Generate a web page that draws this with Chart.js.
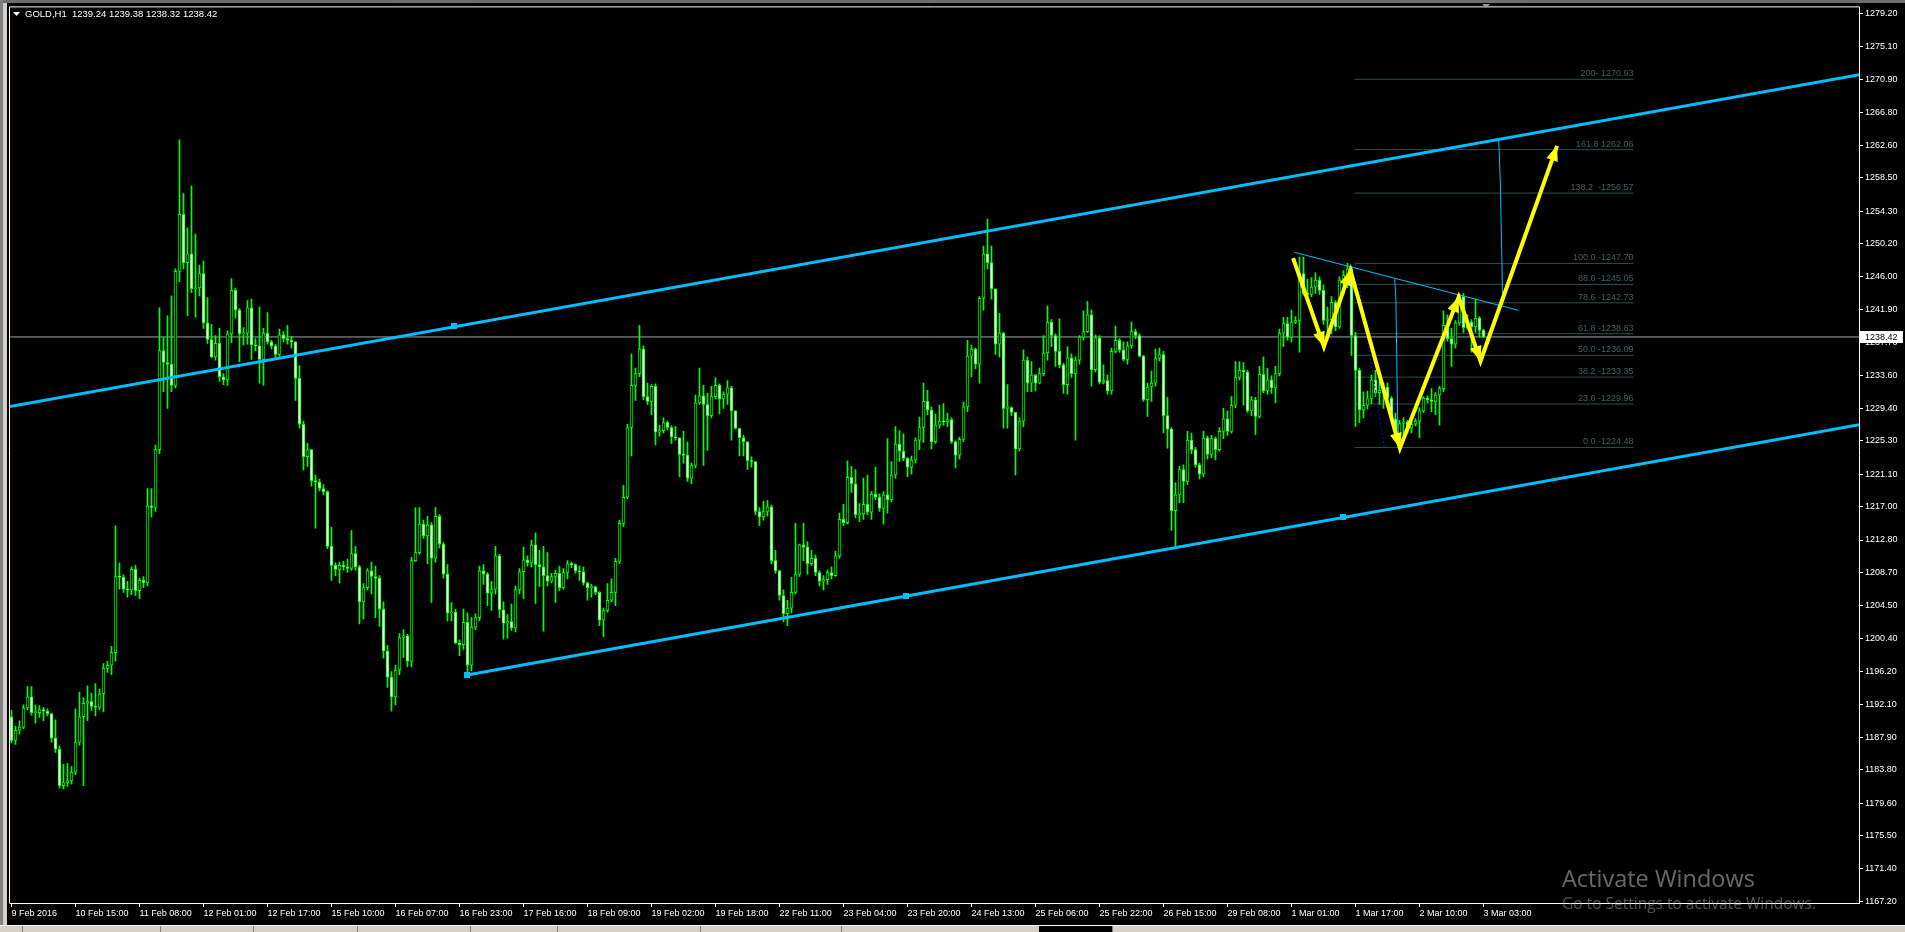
<!DOCTYPE html>
<html>
<head>
<meta charset="utf-8">
<title>GOLD,H1</title>
<script src="https://cdn.jsdelivr.net/npm/chart.js@4.4.1/dist/chart.umd.min.js"></script>
<style>
  html, body { margin: 0; padding: 0; background: #000; overflow: hidden; }
  canvas { display: block; }
</style>
</head>
<body>
<canvas id="chart" width="1905" height="932"></canvas>
<script>
// H1 bars, 9 Feb 2016 .. 3 Mar 03:00 (bar index = hours on the chart)
const firstOpen = 1190.5;
const closes = [
  1187.5, 1188.8, 1189.2, 1191.6, 1193.0, 1191.0, 1191.0, 1191.4, 1191.2, 1190.9,
  1187.8, 1186.4, 1181.8, 1182.2, 1182.4, 1183.5, 1187.3, 1190.5, 1192.2, 1192.4,
  1191.8, 1191.7, 1193.4, 1196.6, 1197.0, 1198.6, 1208.2, 1208.1, 1206.6, 1206.5,
  1209.1, 1206.4, 1207.7, 1207.4, 1217.1, 1216.9, 1224.2, 1236.7, 1235.2, 1235.0,
  1232.3, 1246.7, 1253.9, 1247.8, 1248.9, 1244.5, 1244.6, 1246.4, 1240.2, 1238.1,
  1235.9, 1237.6, 1233.4, 1233.0, 1238.8, 1244.3, 1241.8, 1238.8, 1238.9, 1242.1,
  1237.4, 1237.3, 1235.6, 1238.9, 1237.8, 1237.3, 1236.2, 1238.7, 1238.2, 1238.0,
  1237.8, 1233.2, 1227.4, 1223.3, 1224.2, 1220.3, 1220.1, 1219.3, 1218.9, 1212.0,
  1209.6, 1209.1, 1209.6, 1209.4, 1209.2, 1211.1, 1209.4, 1205.0, 1206.8, 1208.9,
  1208.2, 1208.0, 1204.1, 1198.8, 1195.5, 1193.0, 1196.4, 1200.5, 1200.7, 1197.5,
  1210.2, 1211.2, 1214.8, 1213.3, 1214.7, 1210.5, 1215.8, 1212.3, 1208.5, 1203.6,
  1203.7, 1199.8, 1199.6, 1202.4, 1197.0, 1201.8, 1203.0, 1208.9, 1208.5, 1206.1,
  1206.6, 1210.8, 1204.0, 1202.3, 1202.5, 1201.7, 1206.5, 1208.8, 1210.3, 1209.9,
  1212.2, 1209.7, 1209.4, 1208.3, 1207.6, 1208.2, 1208.6, 1206.8, 1208.7, 1209.8,
  1209.7, 1208.9, 1208.8, 1207.4, 1206.8, 1206.9, 1206.2, 1202.7, 1203.9, 1205.2,
  1206.2, 1210.1, 1214.9, 1218.2, 1227.0, 1232.3, 1233.8, 1236.9, 1230.9, 1230.3,
  1232.2, 1226.4, 1226.6, 1227.6, 1227.0, 1225.8, 1225.7, 1223.6, 1223.5, 1220.6,
  1222.2, 1230.1, 1231.0, 1229.9, 1228.5, 1230.9, 1232.3, 1230.6, 1231.2, 1232.0,
  1229.1, 1226.9, 1225.7, 1225.2, 1222.8, 1222.7, 1216.4, 1215.7, 1216.4, 1217.0,
  1210.2, 1208.9, 1205.8, 1203.5, 1204.2, 1206.2, 1208.5, 1212.2, 1211.9, 1209.8,
  1210.5, 1208.7, 1207.6, 1207.8, 1208.7, 1208.3, 1210.8, 1215.4, 1215.0, 1220.7,
  1219.9, 1216.0, 1216.1, 1217.3, 1216.3, 1218.6, 1218.2, 1216.8, 1218.5, 1217.9,
  1221.0, 1224.9, 1224.0, 1223.1, 1222.0, 1222.9, 1225.4, 1227.0, 1230.3, 1229.2,
  1225.2, 1227.3, 1227.8, 1227.7, 1228.0, 1225.2, 1223.5, 1225.5, 1229.6, 1236.0,
  1236.9, 1235.0, 1243.3, 1248.9, 1247.8, 1244.5, 1237.5, 1238.9, 1229.4, 1229.5,
  1228.9, 1224.3, 1227.8, 1235.5, 1232.6, 1233.6, 1232.6, 1233.8, 1236.4, 1240.3,
  1238.6, 1236.6, 1234.9, 1232.4, 1235.8, 1233.8, 1235.5, 1238.4, 1239.1, 1241.2,
  1234.3, 1238.3, 1232.7, 1232.9, 1231.6, 1236.6, 1238.0, 1236.8, 1235.6, 1237.3,
  1239.1, 1238.6, 1236.0, 1230.5, 1232.1, 1232.6, 1235.7, 1236.2, 1228.5, 1226.8,
  1216.5, 1218.5, 1221.7, 1220.2, 1225.4, 1224.2, 1222.3, 1221.1, 1225.7, 1223.6,
  1225.6, 1224.2, 1226.5, 1228.1, 1226.5, 1229.8, 1233.3, 1234.2, 1234.0, 1229.1,
  1230.5, 1228.4, 1233.7, 1231.6, 1233.0, 1232.0, 1233.8, 1238.9, 1240.1, 1238.4,
  1240.3, 1240.5, 1246.4, 1243.9, 1243.8, 1244.7, 1245.6, 1244.3, 1240.5, 1240.6,
  1242.8, 1239.7, 1245.6, 1246.2, 1247.0, 1238.6, 1234.2, 1229.2, 1229.8, 1230.6,
  1233.0, 1231.4, 1231.7, 1232.1, 1230.7, 1228.1, 1226.1, 1227.5, 1227.7, 1226.9,
  1227.4, 1227.8, 1229.1, 1230.7, 1230.5, 1230.3, 1231.1, 1231.9, 1239.9, 1238.2,
  1237.5, 1240.2, 1243.5, 1239.6, 1240.3, 1239.7, 1240.8, 1239.24, 1238.42
];
const highs = [
  1191.3, 1189.3, 1190.0, 1192.0, 1194.3, 1194.3, 1192.0, 1191.9, 1191.7, 1191.5,
  1190.9, 1190.1, 1186.8, 1184.5, 1184.6, 1184.2, 1191.5, 1193.6, 1192.9, 1194.4,
  1193.5, 1194.7, 1194.0, 1197.2, 1197.5, 1199.4, 1214.6, 1209.9, 1208.4, 1207.6,
  1209.4, 1209.6, 1208.0, 1208.2, 1219.3, 1219.3, 1224.8, 1242.1, 1238.4, 1241.1,
  1243.6, 1247.0, 1263.3, 1256.5, 1252.2, 1257.5, 1251.4, 1247.5, 1248.0, 1243.4,
  1240.0, 1238.6, 1239.5, 1233.8, 1239.2, 1245.8, 1244.6, 1242.0, 1239.6, 1243.0,
  1243.2, 1238.2, 1242.2, 1239.5, 1241.5, 1238.0, 1237.5, 1239.4, 1239.1, 1239.9,
  1238.5, 1235.4, 1234.8, 1227.8, 1225.0, 1222.5, 1221.0, 1220.5, 1219.8, 1219.0,
  1214.4, 1209.9, 1210.0, 1210.1, 1210.4, 1214.0, 1212.0, 1209.6, 1207.3, 1209.2,
  1210.0, 1209.5, 1208.3, 1205.0, 1199.5, 1196.2, 1197.0, 1201.0, 1201.5, 1200.9,
  1210.6, 1216.9, 1216.9, 1215.3, 1215.8, 1215.0, 1216.9, 1216.0, 1212.5, 1209.7,
  1204.9, 1204.1, 1200.2, 1204.1, 1203.6, 1203.0, 1203.5, 1209.5, 1209.7, 1208.7,
  1207.6, 1212.0, 1211.0, 1205.0, 1203.4, 1204.7, 1207.0, 1209.2, 1211.9, 1210.8,
  1212.8, 1213.7, 1211.5, 1212.0, 1211.2, 1208.6, 1209.0, 1209.5, 1209.2, 1210.2,
  1210.0, 1209.8, 1209.5, 1209.4, 1207.5, 1207.2, 1207.0, 1206.3, 1204.2, 1207.3,
  1207.9, 1210.5, 1215.3, 1219.7, 1227.4, 1236.3, 1234.5, 1239.9, 1237.3, 1232.6,
  1232.4, 1232.5, 1227.3, 1228.2, 1227.8, 1227.2, 1227.1, 1225.6, 1226.5, 1225.2,
  1222.5, 1231.1, 1234.5, 1232.3, 1231.3, 1232.2, 1233.3, 1232.5, 1231.5, 1232.9,
  1232.2, 1229.1, 1226.2, 1226.0, 1225.2, 1223.3, 1222.6, 1216.9, 1217.7, 1217.8,
  1217.2, 1211.5, 1209.0, 1206.5, 1205.2, 1208.1, 1214.9, 1212.3, 1214.9, 1212.6,
  1211.5, 1210.9, 1208.9, 1208.3, 1209.0, 1209.4, 1211.4, 1216.2, 1217.3, 1222.8,
  1222.1, 1221.7, 1217.4, 1220.6, 1221.0, 1218.9, 1222.0, 1218.6, 1218.9, 1225.6,
  1222.7, 1227.1, 1226.6, 1226.2, 1223.2, 1223.4, 1225.7, 1228.3, 1232.6, 1231.7,
  1229.6, 1228.7, 1229.8, 1230.0, 1228.8, 1228.2, 1225.3, 1225.8, 1230.2, 1238.0,
  1237.4, 1237.0, 1243.5, 1249.9, 1253.3, 1249.9, 1244.5, 1241.4, 1239.0, 1232.4,
  1229.6, 1228.9, 1228.2, 1236.8, 1235.9, 1235.3, 1233.7, 1234.5, 1238.6, 1242.3,
  1240.6, 1238.8, 1240.7, 1235.1, 1237.2, 1236.3, 1235.9, 1238.6, 1241.7, 1242.9,
  1241.8, 1238.7, 1238.6, 1234.9, 1233.6, 1237.0, 1239.8, 1238.2, 1237.8, 1237.8,
  1240.3, 1239.4, 1238.8, 1236.1, 1232.6, 1234.1, 1236.9, 1237.0, 1236.6, 1230.8,
  1227.0, 1220.0, 1222.1, 1222.3, 1226.5, 1226.3, 1224.5, 1222.5, 1226.5, 1225.9,
  1226.0, 1225.8, 1227.0, 1229.4, 1229.1, 1230.9, 1235.3, 1235.3, 1235.2, 1234.2,
  1230.9, 1230.8, 1234.7, 1235.9, 1234.5, 1233.5, 1234.7, 1239.4, 1240.9, 1240.9,
  1241.8, 1241.0, 1248.5, 1248.5, 1245.7, 1245.9, 1246.5, 1246.0, 1245.0, 1242.2,
  1243.5, 1243.0, 1246.0, 1246.8, 1247.7, 1247.3, 1239.0, 1234.5, 1231.5, 1231.6,
  1233.6, 1234.2, 1232.9, 1232.6, 1232.6, 1230.9, 1228.8, 1227.9, 1228.2, 1227.9,
  1227.7, 1228.1, 1229.5, 1230.9, 1231.0, 1231.9, 1231.4, 1232.2, 1241.7, 1241.2,
  1239.5, 1240.5, 1243.8, 1243.9, 1241.2, 1240.6, 1243.2, 1241.0, 1239.38
];
const lows = [
  1187.2, 1187.0, 1188.3, 1189.0, 1191.4, 1190.7, 1189.7, 1190.4, 1190.0, 1190.6,
  1187.3, 1186.0, 1181.5, 1181.4, 1181.7, 1182.0, 1183.2, 1186.9, 1181.8, 1190.0,
  1191.3, 1190.6, 1191.4, 1191.1, 1196.1, 1195.8, 1197.5, 1206.6, 1206.2, 1205.6,
  1205.9, 1205.8, 1205.4, 1206.8, 1207.0, 1215.7, 1216.4, 1223.7, 1231.5, 1229.4,
  1231.5, 1232.0, 1245.4, 1247.0, 1241.1, 1244.0, 1240.9, 1243.6, 1239.5, 1237.6,
  1235.8, 1235.5, 1232.8, 1232.4, 1232.3, 1237.7, 1240.8, 1235.3, 1237.4, 1237.5,
  1235.6, 1236.7, 1232.6, 1232.3, 1237.5, 1236.9, 1235.8, 1236.0, 1237.8, 1237.5,
  1237.0, 1230.4, 1226.9, 1221.6, 1222.1, 1219.6, 1214.3, 1219.0, 1218.5, 1211.7,
  1207.7, 1208.3, 1207.4, 1209.0, 1208.7, 1209.0, 1209.0, 1202.2, 1202.8, 1206.5,
  1206.0, 1203.0, 1201.9, 1197.9, 1194.2, 1191.2, 1192.0, 1195.8, 1198.0, 1196.8,
  1196.8, 1210.1, 1211.0, 1213.0, 1209.8, 1204.9, 1210.0, 1211.8, 1208.0, 1202.6,
  1202.6, 1199.7, 1198.2, 1199.0, 1196.0, 1196.3, 1201.5, 1202.6, 1207.2, 1204.5,
  1203.9, 1206.0, 1203.0, 1200.3, 1200.4, 1201.4, 1201.2, 1206.0, 1205.4, 1209.5,
  1209.4, 1204.8, 1206.9, 1201.3, 1207.0, 1207.4, 1204.9, 1206.4, 1206.6, 1207.9,
  1209.3, 1208.6, 1207.7, 1207.1, 1205.2, 1205.6, 1205.9, 1202.0, 1200.6, 1203.7,
  1205.0, 1204.5, 1209.8, 1214.5, 1218.0, 1223.4, 1230.4, 1233.4, 1230.5, 1229.9,
  1228.6, 1224.8, 1225.9, 1226.3, 1226.7, 1225.0, 1225.4, 1220.8, 1222.5, 1220.2,
  1219.9, 1221.9, 1229.9, 1222.2, 1224.1, 1228.2, 1230.6, 1228.7, 1229.4, 1229.9,
  1225.4, 1226.8, 1223.4, 1223.4, 1221.7, 1222.0, 1216.0, 1214.6, 1215.3, 1215.8,
  1209.8, 1208.6, 1205.2, 1202.5, 1202.0, 1203.6, 1206.0, 1208.2, 1210.2, 1208.5,
  1209.6, 1208.3, 1207.0, 1206.5, 1207.2, 1207.9, 1208.2, 1210.5, 1214.6, 1214.8,
  1218.8, 1215.6, 1215.1, 1215.4, 1216.0, 1215.4, 1217.9, 1216.4, 1214.8, 1216.2,
  1217.6, 1220.6, 1222.7, 1222.8, 1220.8, 1221.1, 1222.5, 1224.2, 1225.1, 1228.6,
  1224.3, 1225.0, 1226.9, 1227.3, 1227.1, 1225.0, 1221.9, 1223.0, 1225.2, 1229.0,
  1233.4, 1234.4, 1232.6, 1241.8, 1247.0, 1243.2, 1236.2, 1235.9, 1226.9, 1226.9,
  1228.5, 1221.0, 1224.0, 1227.1, 1231.5, 1231.5, 1231.6, 1232.5, 1233.5, 1235.5,
  1237.2, 1234.7, 1234.5, 1231.3, 1231.2, 1233.3, 1225.4, 1235.0, 1238.0, 1239.0,
  1232.2, 1234.0, 1232.5, 1232.5, 1231.2, 1231.2, 1236.4, 1236.5, 1235.4, 1235.0,
  1237.0, 1238.2, 1235.9, 1230.3, 1228.4, 1230.3, 1232.2, 1235.4, 1226.3, 1224.4,
  1214.0, 1212.0, 1217.5, 1217.5, 1219.8, 1223.7, 1222.0, 1220.5, 1220.8, 1223.0,
  1223.2, 1222.9, 1224.0, 1225.6, 1226.0, 1226.3, 1229.5, 1233.0, 1229.8, 1228.9,
  1228.5, 1226.1, 1228.2, 1231.4, 1231.2, 1231.3, 1230.1, 1233.5, 1237.2, 1238.0,
  1237.8, 1240.1, 1236.5, 1243.7, 1242.8, 1243.5, 1243.9, 1243.8, 1240.0, 1238.2,
  1238.8, 1239.2, 1239.5, 1243.8, 1244.6, 1236.1, 1227.1, 1227.6, 1228.2, 1229.3,
  1230.0, 1230.9, 1229.9, 1229.4, 1230.2, 1227.7, 1225.6, 1224.5, 1226.0, 1226.3,
  1226.3, 1227.2, 1225.7, 1228.9, 1230.1, 1229.0, 1228.6, 1227.3, 1231.5, 1237.9,
  1234.7, 1237.0, 1239.9, 1239.0, 1239.4, 1236.5, 1239.0, 1238.4, 1238.32
];

// time axis labels, one every 16 bars
const timeLabels = [
  "9 Feb 2016", "10 Feb 15:00", "11 Feb 08:00", "12 Feb 01:00", "12 Feb 17:00",
  "15 Feb 10:00", "16 Feb 07:00", "16 Feb 23:00", "17 Feb 16:00", "18 Feb 09:00",
  "19 Feb 02:00", "19 Feb 18:00", "22 Feb 11:00", "23 Feb 04:00", "23 Feb 20:00",
  "24 Feb 13:00", "25 Feb 06:00", "25 Feb 22:00", "26 Feb 15:00", "29 Feb 08:00",
  "1 Mar 01:00", "1 Mar 17:00", "2 Mar 10:00", "3 Mar 03:00"
];
const priceTicks = [
  1279.20, 1275.10, 1270.90, 1266.80, 1262.60, 1258.50, 1254.30, 1250.20, 1246.00,
  1241.90, 1237.70, 1233.60, 1229.40, 1225.30, 1221.10, 1217.00, 1212.80, 1208.70,
  1204.50, 1200.40, 1196.20, 1192.10, 1187.90, 1183.80, 1179.60, 1175.50, 1171.40, 1167.20
];

// drawn objects, as [bar, price]
const upperChannel = [[-1, 1229.6], [463, 1271.6]];
const lowerChannel = [[113.9, 1195.78], [463, 1227.44]];
const channelAnchors = [[110.5, 1239.75], [113.9, 1195.78], [223.5, 1205.72], [332.9, 1215.64]];
const fallingTrend = [[320.75, 1249.1], [376.7, 1241.79]];
const dropLineA = [[345.8, 1245.8], [346.1, 1243.2], [346.6, 1226.1]];
const dropLineB = [[371.8, 1263.36], [372.2, 1258.0], [372.6, 1248.0], [372.8, 1242.4]];
const fibDiagonal = [[336.0, 1247.70], [343.2, 1224.48]];
const arrowPath = [
  [320.4, 1248.36], [328.1, 1237.18], [334.75, 1246.82], [347.1, 1224.39],
  [361.8, 1243.46], [367.25, 1235.38], [386.4, 1262.53]
];
const fibLevels = [200, 161.8, 138.2, 100, 88.6, 78.6, 61.8, 50, 38.2, 23.6, 0];
const fibPrices = [1270.93, 1262.06, 1256.57, 1247.70, 1245.05, 1242.73, 1238.83, 1236.09, 1233.35, 1229.96, 1224.48];
const fibLabels = [
  "200- 1270.93", "161.8 1262.06", "138.2  -1256.57", "100.0 -1247.70", "88.6 -1245.05",
  "78.6 -1242.73", "61.8 -1238.83", "50.0 -1236.09", "38.2 -1233.35", "23.6 -1229.96", "0.0 -1224.48"
];
const fibStart = 335.75, fibEnd = 405.5;
const bid = 1238.42;
const header = "GOLD,H1  1239.24 1239.38 1238.32 1238.42";

const LIME = "#00ff00";
const SKY = "#00bfff";
const FONT = '"Liberation Sans", Arial, sans-serif';

const opens = closes.map((c, i) => (i === 0 ? firstOpen : closes[i - 1]));
const wickData = closes.map((c, i) => ({
  x: i,
  y: [Math.min(lows[i], opens[i], c), Math.max(highs[i], opens[i], c)]
}));
const bodyData = closes.map((c, i) => ({ x: i, y: [opens[i], c] }));
const bodyFill = closes.map((c, i) => (c < opens[i] ? "#ffffff" : "#000000"));

const pts = (arr) => arr.map(([x, y]) => ({ x, y }));
const lineSet = (data, color, width, order, extra) =>
  Object.assign({
    type: "line", data: pts(data), borderColor: color, borderWidth: width,
    pointRadius: 0, fill: false, tension: 0, order, clip: 0
  }, extra || {});

const datasets = [
  lineSet([[-1, bid], [463, bid]], "#9ea6ae", 1, 100),
  ...fibPrices.map((p) => lineSet([[fibStart, p], [fibEnd, p]], "#2f4f4f", 1, 90)),
  {
    type: "bar", data: wickData, backgroundColor: LIME, borderWidth: 0,
    barThickness: 1, grouped: false, order: 50
  },
  {
    type: "bar", data: bodyData, backgroundColor: bodyFill, borderColor: LIME,
    borderWidth: 1, borderSkipped: false, barThickness: 3, minBarLength: 1,
    grouped: false, order: 40
  },
  lineSet(upperChannel, SKY, 3, 20),
  lineSet(lowerChannel, SKY, 3, 20),
  lineSet(fallingTrend, SKY, 1, 15),
  lineSet(dropLineA, SKY, 1, 15),
  lineSet(dropLineB, SKY, 1, 15),
  lineSet(fibDiagonal, "#1010e0", 1, 15, { borderDash: [2, 2] }),
  lineSet(arrowPath, "#ffff00", 4, 1, { borderJoinStyle: "miter" })
];

const overlay = {
  id: "overlay",
  beforeDraw(chart) {
    const { ctx, width, height } = chart;
    ctx.save();
    ctx.fillStyle = "#000";
    ctx.fillRect(0, 0, width, height);
    ctx.restore();
  },
  afterDatasetsDraw(chart) {
    const { ctx, chartArea: a } = chart;
    const x = chart.scales.x, y = chart.scales.y;
    ctx.save();
    ctx.beginPath();
    ctx.rect(a.left, a.top, a.right - a.left, a.bottom - a.top);
    ctx.clip();

    // fibo level captions
    ctx.font = "9px " + FONT;
    ctx.fillStyle = "#3f6060";
    ctx.textAlign = "right";
    ctx.textBaseline = "bottom";
    fibPrices.forEach((p, i) => {
      ctx.fillText(fibLabels[i], x.getPixelForValue(fibEnd), y.getPixelForValue(p) - 1);
    });

    // channel anchor squares
    ctx.fillStyle = SKY;
    channelAnchors.forEach(([b, p]) => {
      const px = Math.round(x.getPixelForValue(b)), py = Math.round(y.getPixelForValue(p));
      ctx.fillRect(px - 3, py - 3, 6, 6);
    });

    // arrow heads on every leg
    ctx.fillStyle = "#ffff00";
    for (let i = 1; i < arrowPath.length; i++) {
      const x0 = x.getPixelForValue(arrowPath[i - 1][0]), y0 = y.getPixelForValue(arrowPath[i - 1][1]);
      const x1 = x.getPixelForValue(arrowPath[i][0]), y1 = y.getPixelForValue(arrowPath[i][1]);
      const ang = Math.atan2(y1 - y0, x1 - x0);
      const len = 15, half = 6;
      const bx = x1 - Math.cos(ang) * len, by = y1 - Math.sin(ang) * len;
      ctx.beginPath();
      ctx.moveTo(x1, y1);
      ctx.lineTo(bx + Math.sin(ang) * half, by - Math.cos(ang) * half);
      ctx.lineTo(bx - Math.sin(ang) * half, by + Math.cos(ang) * half);
      ctx.closePath();
      ctx.fill();
    }
    ctx.restore();
  },
  afterDraw(chart) {
    const { ctx, chartArea: a, width, height } = chart;
    const y = chart.scales.y, x = chart.scales.x;
    ctx.save();

    // window chrome
    ctx.fillStyle = "#6e6e6e";
    ctx.fillRect(0, 0, width, 3);
    ctx.fillStyle = "#808080";
    ctx.fillRect(0, 0, 3, height);
    ctx.fillStyle = "#d4d0c8";
    ctx.fillRect(3, 3, 4, height);
    ctx.fillStyle = "#d4d0c8";
    ctx.fillRect(0, 926, width, height - 926);
    ctx.fillStyle = "#ffffff";
    ctx.fillRect(0, 925, width, 1);
    ctx.fillStyle = "#808080";
    [22, 160, 253, 357, 470, 557, 700, 841, 1043, 1112].forEach((sx) => ctx.fillRect(sx, 926, 1, 6));
    ctx.fillStyle = "#000";
    ctx.fillRect(1039, 926, 73, 6);

    // chart frame
    ctx.strokeStyle = "#ffffff";
    ctx.lineWidth = 1;
    ctx.beginPath();
    ctx.moveTo(a.left - 0.5, a.bottom + 0.5);
    ctx.lineTo(a.left - 0.5, a.top - 0.5);
    ctx.lineTo(a.right + 0.5, a.top - 0.5);
    ctx.stroke();

    // shift marker
    const sx = Math.round(x.getPixelForValue(368.7));
    ctx.fillStyle = "#9a9a9a";
    ctx.beginPath();
    ctx.moveTo(sx - 4, 4);
    ctx.lineTo(sx + 4, 4);
    ctx.lineTo(sx, 8);
    ctx.closePath();
    ctx.fill();

    // bid price box on the axis
    const by = Math.round(y.getPixelForValue(bid));
    ctx.fillStyle = "#ffffff";
    ctx.fillRect(a.right + 1, by - 6, 43, 12);
    ctx.fillStyle = "#000000";
    ctx.font = "9px " + FONT;
    ctx.textAlign = "left";
    ctx.textBaseline = "middle";
    ctx.fillText(bid.toFixed(2), a.right + 6, by + 0.5);

    // header
    ctx.fillStyle = "#ffffff";
    ctx.beginPath();
    ctx.moveTo(13, 12);
    ctx.lineTo(20, 12);
    ctx.lineTo(16.5, 16);
    ctx.closePath();
    ctx.fill();
    ctx.font = "9.5px " + FONT;
    ctx.textBaseline = "middle";
    ctx.fillText(header, 25, 14);

    // windows watermark
    ctx.fillStyle = "rgba(190,190,190,0.55)";
    ctx.font = "23.5px 'Open Sans', sans-serif";
    ctx.textBaseline = "alphabetic";
    ctx.fillText("Activate Windows", 1562, 887);
    ctx.fillStyle = "rgba(170,170,170,0.5)";
    ctx.font = "15.5px 'Open Sans', sans-serif";
    ctx.fillText("Go to Settings to activate Windows.", 1562, 909);
    ctx.restore();
  }
};

new Chart(document.getElementById("chart"), {
  type: "bar",
  data: { datasets },
  options: {
    responsive: false,
    animation: false,
    events: [],
    layout: { padding: { left: 10, top: 4, right: 0, bottom: 0 } },
    plugins: { legend: { display: false }, tooltip: { enabled: false } },
    scales: {
      x: {
        type: "linear",
        min: -0.375,
        max: 461.875,
        offset: false,
        bounds: "data",
        afterFit: (s) => { s.height = 29; },
        afterBuildTicks: (s) => { s.ticks = timeLabels.map((t, i) => ({ value: i * 16 })); },
        grid: { offset: false, drawOnChartArea: false, drawTicks: true, tickLength: 4, color: "#ffffff" },
        border: { display: true, color: "#ffffff" },
        ticks: {
          autoSkip: false, maxRotation: 0, align: "start", padding: 1, color: "#ffffff",
          font: { family: FONT, size: 9 },
          callback: (v) => timeLabels[Math.round(v / 16)]
        }
      },
      y: {
        position: "right",
        min: 1167.0,
        max: 1280.0,
        beginAtZero: false,
        bounds: "data",
        afterFit: (s) => { s.width = 46; },
        afterBuildTicks: (s) => { s.ticks = priceTicks.map((v) => ({ value: v })); },
        grid: { drawOnChartArea: false, drawTicks: true, tickLength: 4, color: "#ffffff" },
        border: { display: true, color: "#ffffff" },
        ticks: {
          autoSkip: false, padding: 2, color: "#ffffff",
          font: { family: FONT, size: 9 },
          callback: (v) => Number(v).toFixed(2)
        }
      }
    }
  },
  plugins: [overlay]
});
</script>
</body>
</html>
